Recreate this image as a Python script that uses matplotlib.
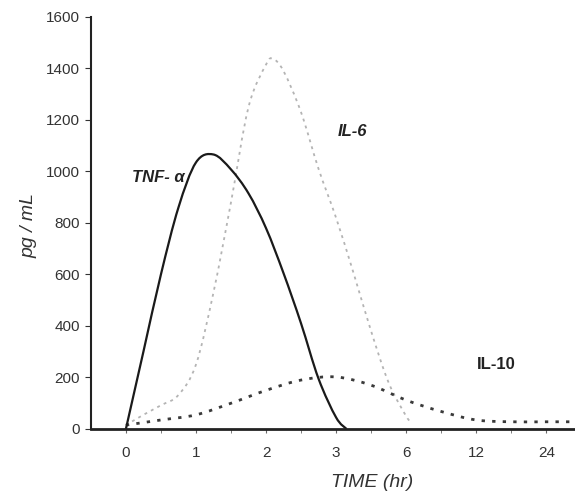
import numpy as np
import matplotlib
matplotlib.use("Agg")
import matplotlib.pyplot as plt
from matplotlib.path import Path
from matplotlib.patches import PathPatch

plt.rcParams['font.family'] = ['Liberation Sans', 'DejaVu Sans']

# categorias del eje x (posicion 0..6)
categorias = ["0", "1", "2", "3", "6", "12", "24"]

# valores (posicion de categoria, pg/mL)
tnf_x = [0, 0.25, 0.5, 0.75, 1.0, 1.25, 1.5, 1.75, 2.0, 2.25, 2.5, 2.75, 3.0, 3.15]
tnf_y = [0, 300, 600, 860, 1035, 1066, 1008, 915, 780, 605, 410, 195, 45, 0]

il6_x = [0, 0.25, 0.5, 0.75, 1.0, 1.25, 1.5, 1.75, 2.0, 2.1, 2.25, 2.5, 2.75, 3.0, 3.25, 3.5, 3.75, 4.0, 4.08]
il6_y = [15, 55, 92, 132, 250, 530, 880, 1250, 1415, 1437, 1390, 1230, 1010, 820, 605, 380, 180, 50, 25]

il10_x = [0, 0.5, 1.0, 1.5, 2.0, 2.5, 3.0, 3.5, 4.0, 4.5, 5.0, 5.5, 6.0, 6.5]
il10_y = [15, 35, 55, 100, 150, 190, 202, 170, 112, 68, 35, 28, 28, 28]


def curva_suave(ax, xs, ys, **kw):
    # linea suavizada tipo Excel (Catmull-Rom -> Bezier)
    p = np.column_stack([xs, ys]).astype(float)
    n = len(p)
    verts = [p[0]]
    codes = [Path.MOVETO]
    for i in range(n - 1):
        p0 = p[i - 1] if i > 0 else p[i]
        p1 = p[i]
        p2 = p[i + 1]
        p3 = p[i + 2] if i + 2 < n else p[i + 1]
        c1 = p1 + (p2 - p0) / 6.0
        c2 = p2 - (p3 - p1) / 6.0
        verts += [c1, c2, p2]
        codes += [Path.CURVE4] * 3
    patch = PathPatch(Path(verts, codes), fill=False, **kw)
    ax.add_patch(patch)
    return patch


fig = plt.figure(figsize=(5.75, 4.94), dpi=100)
ax = fig.add_axes([0.158, 0.1316, 0.842, 0.834])

curva_suave(ax, il6_x, il6_y, edgecolor='#b4b4b4', lw=1.3, linestyle=(0, (1.6, 2.4)))
curva_suave(ax, il10_x, il10_y, edgecolor='#3a3a3a', lw=2.0, linestyle=(0, (1.2, 2.6)))
curva_suave(ax, tnf_x, tnf_y, edgecolor='#1a1a1a', lw=1.6)

ax.set_xlim(-0.5, 6.41)
ax.set_ylim(0, 1600)

ax.spines['top'].set_visible(False)
ax.spines['right'].set_visible(False)
ax.spines['left'].set_linewidth(1.5)
ax.spines['bottom'].set_linewidth(2.0)
ax.spines['left'].set_color('#222222')
ax.spines['bottom'].set_color('#222222')

ax.set_yticks(np.arange(0, 1601, 200))
ax.set_xticks(range(len(categorias)))
ax.set_xticklabels(categorias)
ax.set_xticks(np.arange(0, 6.5, 0.5), minor=True)
ax.tick_params(axis='x', which='major', length=3, color='#666666', labelsize=11,
               labelcolor='#333333', pad=9)
ax.tick_params(axis='x', which='minor', length=3, color='#666666')
ax.tick_params(axis='y', length=4, color='#333333', labelsize=11, labelcolor='#333333', pad=4)

ax.set_xlabel('TIME (hr)', fontsize=14, style='italic', color='#333333')
ax.set_ylabel('pg / mL', fontsize=14, style='italic', color='#333333')
ax.xaxis.set_label_coords(0.58, -0.11)
ax.yaxis.set_label_coords(-0.11, 0.495)

ax.text(0.46, 977, 'TNF- α', fontsize=12, fontweight='bold', style='italic', color='#222222',
        ha='center', va='center')
ax.text(3.23, 1155, 'IL-6', fontsize=12, fontweight='bold', style='italic', color='#222222',
        ha='center', va='center')
ax.text(5.28, 249, 'IL-10', fontsize=12, fontweight='bold', color='#222222',
        ha='center', va='center')

fig.savefig('out.png', dpi=100)
